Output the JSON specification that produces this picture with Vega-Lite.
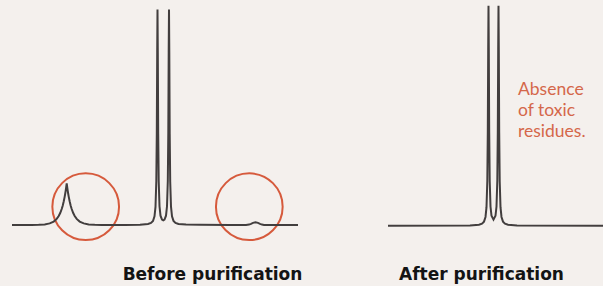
{
  "$schema": "https://vega.github.io/schema/vega-lite/v6.json",
  "width": 603,
  "height": 286,
  "padding": 0,
  "autosize": {"type": "fit", "contains": "padding"},
  "background": "#f4f0ed",
  "config": {"view": {"stroke": null}},
  "datasets": {
    "spectra": [
      {"s": "before", "x": 12, "y": 0},
      {"s": "before", "x": 31.7, "y": 0.02},
      {"s": "before", "x": 38.7, "y": 0.09},
      {"s": "before", "x": 44.7, "y": 0.28},
      {"s": "before", "x": 49.7, "y": 0.74},
      {"s": "before", "x": 53.7, "y": 1.59},
      {"s": "before", "x": 56.7, "y": 2.84},
      {"s": "before", "x": 58.7, "y": 4.16},
      {"s": "before", "x": 60.2, "y": 5.56},
      {"s": "before", "x": 61.7, "y": 7.42},
      {"s": "before", "x": 62.7, "y": 8.99},
      {"s": "before", "x": 63.7, "y": 10.9},
      {"s": "before", "x": 64.7, "y": 13.2},
      {"s": "before", "x": 65.2, "y": 14.54},
      {"s": "before", "x": 65.7, "y": 16.0},
      {"s": "before", "x": 66.2, "y": 17.62},
      {"s": "before", "x": 66.7, "y": 19.4},
      {"s": "before", "x": 67.2, "y": 17.62},
      {"s": "before", "x": 67.7, "y": 16.0},
      {"s": "before", "x": 68.2, "y": 14.54},
      {"s": "before", "x": 68.7, "y": 13.2},
      {"s": "before", "x": 69.7, "y": 10.9},
      {"s": "before", "x": 70.7, "y": 8.99},
      {"s": "before", "x": 71.7, "y": 7.42},
      {"s": "before", "x": 73.2, "y": 5.56},
      {"s": "before", "x": 74.7, "y": 4.16},
      {"s": "before", "x": 76.7, "y": 2.84},
      {"s": "before", "x": 79.7, "y": 1.59},
      {"s": "before", "x": 83.7, "y": 0.74},
      {"s": "before", "x": 88.7, "y": 0.28},
      {"s": "before", "x": 94.7, "y": 0.09},
      {"s": "before", "x": 101.7, "y": 0.02},
      {"s": "before", "x": 125, "y": 0.04},
      {"s": "before", "x": 140, "y": 0.17},
      {"s": "before", "x": 148, "y": 0.48},
      {"s": "before", "x": 151, "y": 0.96},
      {"s": "before", "x": 153, "y": 1.89},
      {"s": "before", "x": 154.5, "y": 4.02},
      {"s": "before", "x": 155.5, "y": 8.46},
      {"s": "before", "x": 156.3, "y": 20.2},
      {"s": "before", "x": 156.8, "y": 42.6},
      {"s": "before", "x": 157.2, "y": 80.2},
      {"s": "before", "x": 157.5, "y": 100.2},
      {"s": "before", "x": 157.8, "y": 80.3},
      {"s": "before", "x": 158.2, "y": 42.7},
      {"s": "before", "x": 158.7, "y": 20.3},
      {"s": "before", "x": 159.5, "y": 8.7},
      {"s": "before", "x": 160.5, "y": 4.35},
      {"s": "before", "x": 162, "y": 2.5},
      {"s": "before", "x": 163.25, "y": 2.2},
      {"s": "before", "x": 164.5, "y": 2.5},
      {"s": "before", "x": 166, "y": 4.35},
      {"s": "before", "x": 167, "y": 8.7},
      {"s": "before", "x": 167.8, "y": 20.3},
      {"s": "before", "x": 168.3, "y": 42.7},
      {"s": "before", "x": 168.7, "y": 80.3},
      {"s": "before", "x": 169, "y": 100.2},
      {"s": "before", "x": 169.3, "y": 80.3},
      {"s": "before", "x": 169.7, "y": 42.6},
      {"s": "before", "x": 170.2, "y": 20.2},
      {"s": "before", "x": 171, "y": 8.5},
      {"s": "before", "x": 172, "y": 4.05},
      {"s": "before", "x": 173.5, "y": 1.92},
      {"s": "before", "x": 175.5, "y": 0.99},
      {"s": "before", "x": 178.5, "y": 0.5},
      {"s": "before", "x": 186, "y": 0.2},
      {"s": "before", "x": 200, "y": 0.08},
      {"s": "before", "x": 230, "y": 0.03},
      {"s": "before", "x": 246, "y": 0},
      {"s": "before", "x": 249, "y": 0.2},
      {"s": "before", "x": 251, "y": 0.55},
      {"s": "before", "x": 253, "y": 1.0},
      {"s": "before", "x": 255.5, "y": 1.25},
      {"s": "before", "x": 258, "y": 1.0},
      {"s": "before", "x": 260, "y": 0.55},
      {"s": "before", "x": 262, "y": 0.2},
      {"s": "before", "x": 264, "y": 0},
      {"s": "before", "x": 298, "y": 0},
      {"s": "after", "x": 388, "y": -0.4},
      {"s": "after", "x": 470, "y": -0.25},
      {"s": "after", "x": 479, "y": 0.1},
      {"s": "after", "x": 482, "y": 0.6},
      {"s": "after", "x": 484, "y": 1.56},
      {"s": "after", "x": 485.5, "y": 3.74},
      {"s": "after", "x": 486.5, "y": 8.28},
      {"s": "after", "x": 487.3, "y": 20.3},
      {"s": "after", "x": 487.8, "y": 43.1},
      {"s": "after", "x": 488.2, "y": 81.5},
      {"s": "after", "x": 488.5, "y": 102.0},
      {"s": "after", "x": 488.8, "y": 81.6},
      {"s": "after", "x": 489.2, "y": 43.2},
      {"s": "after", "x": 489.7, "y": 20.5},
      {"s": "after", "x": 490.5, "y": 8.6},
      {"s": "after", "x": 491.5, "y": 4.27},
      {"s": "after", "x": 493.5, "y": 2.5},
      {"s": "after", "x": 495.5, "y": 4.27},
      {"s": "after", "x": 496.5, "y": 8.6},
      {"s": "after", "x": 497.3, "y": 20.5},
      {"s": "after", "x": 497.8, "y": 43.2},
      {"s": "after", "x": 498.2, "y": 81.6},
      {"s": "after", "x": 498.5, "y": 102.0},
      {"s": "after", "x": 498.8, "y": 81.5},
      {"s": "after", "x": 499.2, "y": 43.1},
      {"s": "after", "x": 499.7, "y": 20.3},
      {"s": "after", "x": 500.5, "y": 8.28},
      {"s": "after", "x": 501.5, "y": 3.74},
      {"s": "after", "x": 503, "y": 1.56},
      {"s": "after", "x": 505, "y": 0.6},
      {"s": "after", "x": 508, "y": 0.1},
      {"s": "after", "x": 517, "y": -0.25},
      {"s": "after", "x": 603, "y": -0.4}
    ],
    "circles": [
      {"x": 85.7, "y": 8.5},
      {"x": 249.3, "y": 8.5}
    ],
    "notes": [
      {"x": 518, "y": 60.47, "t": "Absence"},
      {"x": 518, "y": 50.47, "t": "of toxic"},
      {"x": 518, "y": 40.7, "t": "residues."}
    ],
    "labels": [
      {"x": 212.5, "y": -25.58, "t": "Before purification"},
      {"x": 481.5, "y": -25.58, "t": "After purification"}
    ]
  },
  "encoding": {
    "x": {"field": "x", "type": "quantitative", "axis": null,
          "scale": {"domain": [0, 603], "nice": false, "zero": false}},
    "y": {"field": "y", "type": "quantitative", "axis": null,
          "scale": {"domain": [-28.37, 104.65], "nice": false, "zero": false}}
  },
  "layer": [
    {
      "data": {"name": "circles"},
      "mark": {"type": "point", "shape": "circle", "filled": false, "size": 4450,
               "stroke": "#d65a3c", "strokeWidth": 2, "opacity": 1}
    },
    {
      "data": {"name": "spectra"},
      "mark": {"type": "line", "color": "#423e3e", "strokeWidth": 2, "strokeJoin": "miter", "clip": true},
      "encoding": {"detail": {"field": "s"}}
    },
    {
      "data": {"name": "notes"},
      "mark": {"type": "text", "align": "left", "baseline": "alphabetic",
               "font": "Lato", "fontSize": 17.5, "color": "#d4674a"},
      "encoding": {"text": {"field": "t"}}
    },
    {
      "data": {"name": "labels"},
      "mark": {"type": "text", "align": "center", "baseline": "alphabetic",
               "font": "DejaVu Sans", "fontWeight": "bold",
               "fontSize": 17, "color": "#141414"},
      "encoding": {"text": {"field": "t"}}
    }
  ]
}
